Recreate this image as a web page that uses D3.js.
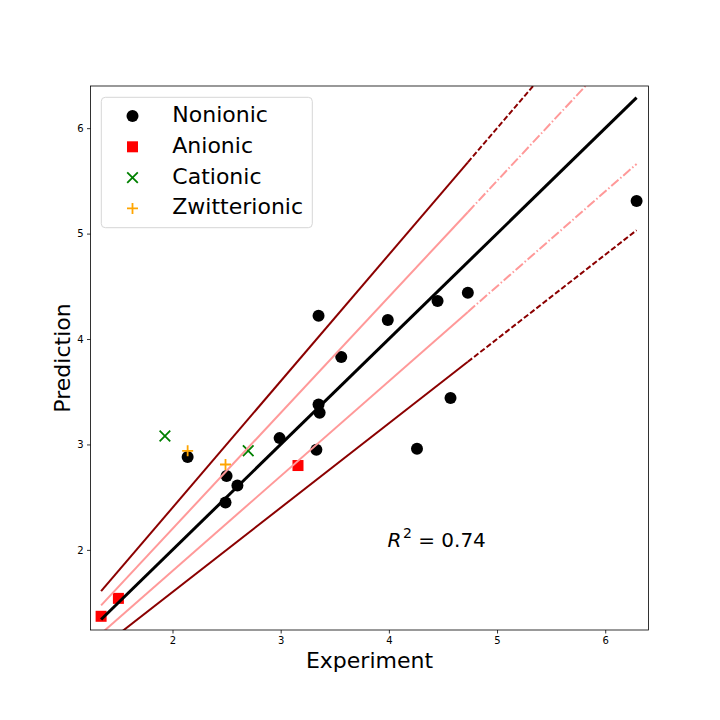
<!DOCTYPE html>
<html>
<head>
<meta charset="utf-8">
<title>prediction vs experiment</title>
<style>
  body { margin: 0; background: #fff; }
  .axis path { display: none; }
  .axis line { stroke: black; stroke-width: 0.8; }
  .axis text { font-family: "DejaVu Sans", sans-serif; font-size: 10px; fill: black; }
  .label { font-family: "DejaVu Sans", sans-serif; font-size: 22px; fill: black; }
</style>
</head>
<body>
<script src="https://cdn.jsdelivr.net/npm/d3@7"></script>
<script>
// data
var nonionicX = [2.14, 2.50, 2.49, 2.60, 2.99, 3.35, 3.33, 3.35, 3.36, 3.56, 3.99, 4.26, 4.45, 4.57, 4.73, 6.29];
var nonionicY = [2.88, 2.70, 2.45, 2.61, 3.06, 4.22, 2.95, 3.38, 3.30, 3.83, 4.18, 2.96, 4.36, 3.44, 4.44, 5.31];
var anionicX = [1.34, 1.50, 3.16];
var anionicY = [1.37, 1.54, 2.80];
var cationicX = [1.93, 2.70];
var cationicY = [3.08, 2.94];
var zwitterionicX = [2.14, 2.49];
var zwitterionicY = [2.94, 2.81];
var xTicks = [2, 3, 4, 5, 6];
var yTicks = [2, 3, 4, 5, 6];
var bandRatios = [1.2, 1.1, 0.9, 0.8];
var solidUntil = 4.73;
var r2 = 0.74;

var width = 720, height = 720;
var box = {left: 90.5, right: 648.5, top: 86, bottom: 630};

var svg = d3.select('body')
  .append('svg')
  .attr('width', width).attr('height', height);

var x = d3.scaleLinear().domain([1.242, 6.40]).range([box.left, box.right]);
var y = d3.scaleLinear().domain([1.24, 6.40]).range([box.bottom, box.top]);

svg.append('clipPath').attr('id', 'plot')
  .append('rect')
  .attr('x', box.left).attr('y', box.top)
  .attr('width', box.right - box.left).attr('height', box.bottom - box.top);

var plot = svg.append('g').attr('clip-path', 'url(#plot)');

function zip(xs, ys) { return xs.map((d, i) => [d, ys[i]]); }

// scatter groups
plot.selectAll('circle.non')
  .data(zip(nonionicX, nonionicY))
  .enter().append('circle')
  .attr('cx', d => x(d[0])).attr('cy', d => y(d[1]))
  .attr('r', 6).attr('fill', 'black');

plot.selectAll('rect.an')
  .data(zip(anionicX, anionicY))
  .enter().append('rect')
  .attr('x', d => x(d[0]) - 5.5).attr('y', d => y(d[1]) - 5.5)
  .attr('width', 11).attr('height', 11).attr('fill', 'red');

function cross(sel, s) {
  return sel.attr('d', 'M' + (-s) + ',' + (-s) + 'L' + s + ',' + s + 'M' + (-s) + ',' + s + 'L' + s + ',' + (-s));
}
function plus(sel, s) {
  return sel.attr('d', 'M' + (-s) + ',0L' + s + ',0M0,' + (-s) + 'L0,' + s);
}

cross(plot.selectAll('path.cat')
  .data(zip(cationicX, cationicY))
  .enter().append('path')
  .attr('transform', d => 'translate(' + x(d[0]) + ',' + y(d[1]) + ')')
  .attr('stroke', 'green').attr('stroke-width', 1.8).attr('fill', 'none'), 5.3);

plus(plot.selectAll('path.zw')
  .data(zip(zwitterionicX, zwitterionicY))
  .enter().append('path')
  .attr('transform', d => 'translate(' + x(d[0]) + ',' + y(d[1]) + ')')
  .attr('stroke', 'orange').attr('stroke-width', 1.8).attr('fill', 'none'), 5.5);

// guide lines y = k*x
var allX = nonionicX.concat(anionicX, cationicX, zwitterionicX);
var xMin = d3.min(allX), xMax = d3.max(allX);
var line = d3.line().x(d => x(d[0])).y(d => y(d[1]));

bandRatios.forEach(function (k) {
  var outer = Math.abs(k - 1) > 0.15;
  var color = outer ? '#8b0000' : '#ff9999';
  plot.append('path')
    .attr('d', line([[xMin, k * xMin], [solidUntil, k * solidUntil]]))
    .attr('stroke', color).attr('stroke-width', 2).attr('fill', 'none');
  plot.append('path')
    .attr('d', line([[solidUntil, k * solidUntil], [xMax, k * xMax]]))
    .attr('stroke', color).attr('stroke-width', 2).attr('fill', 'none')
    .attr('stroke-dasharray', outer ? '5.5,2.4' : '9.6,2.4,1.5,2.4');
});

plot.append('path')
  .attr('d', line([[xMin, xMin], [xMax, xMax]]))
  .attr('stroke', 'black').attr('stroke-width', 3).attr('fill', 'none');

// axes
svg.append('g').attr('class', 'axis')
  .attr('transform', 'translate(0,' + box.bottom + ')')
  .call(d3.axisBottom(x).tickValues(xTicks).tickFormat(d3.format('d'))
    .tickSize(3.5).tickPadding(3.5).tickSizeOuter(0));
svg.append('g').attr('class', 'axis')
  .attr('transform', 'translate(' + box.left + ',0)')
  .call(d3.axisLeft(y).tickValues(yTicks).tickFormat(d3.format('d'))
    .tickSize(3.5).tickPadding(3.5).tickSizeOuter(0));

svg.append('rect')
  .attr('x', box.left).attr('y', box.top)
  .attr('width', box.right - box.left).attr('height', box.bottom - box.top)
  .attr('fill', 'none').attr('stroke', 'black').attr('stroke-width', 0.8);

svg.append('text').attr('class', 'label')
  .attr('x', (box.left + box.right) / 2).attr('y', 667.5)
  .attr('text-anchor', 'middle').text('Experiment');
svg.append('text').attr('class', 'label')
  .attr('transform', 'translate(70,' + (box.top + box.bottom) / 2 + ') rotate(-90)')
  .attr('text-anchor', 'middle').text('Prediction');

// R^2 annotation
var r2Text = svg.append('text')
  .attr('x', 387.5).attr('y', 547)
  .style('font-family', '"DejaVu Sans", sans-serif').style('font-size', '20px');
r2Text.append('tspan').style('font-style', 'italic').text('R');
r2Text.append('tspan').attr('dy', -9).attr('dx', 1.5).style('font-size', '14px').text('2');
r2Text.append('tspan').attr('dy', 9).text(' = ' + r2.toFixed(2));

// legend
var legend = svg.append('g');
legend.append('rect')
  .attr('x', 101.3).attr('y', 97.3).attr('width', 211).attr('height', 130.4)
  .attr('rx', 4).attr('fill', 'white').attr('fill-opacity', 0.8)
  .attr('stroke', '#d6d6d6').attr('stroke-width', 1);

var legendNames = ['Nonionic', 'Anionic', 'Cationic', 'Zwitterionic'];
legendNames.forEach(function (name, i) {
  var cy = 116 + i * 30.8;
  var g = legend.append('g').attr('transform', 'translate(132.5,' + cy + ')');
  if (i === 0) g.append('circle').attr('r', 6).attr('fill', 'black');
  if (i === 1) g.append('rect').attr('x', -5.5).attr('y', -5.5).attr('width', 11).attr('height', 11).attr('fill', 'red');
  if (i === 2) cross(g.append('path'), 5.3).attr('stroke', 'green').attr('stroke-width', 1.8);
  if (i === 3) plus(g.append('path'), 5.5).attr('stroke', 'orange').attr('stroke-width', 1.8);
  legend.append('text').attr('class', 'label')
    .attr('x', 172.3).attr('y', cy + 6).text(name);
});
</script>
</body>
</html>
